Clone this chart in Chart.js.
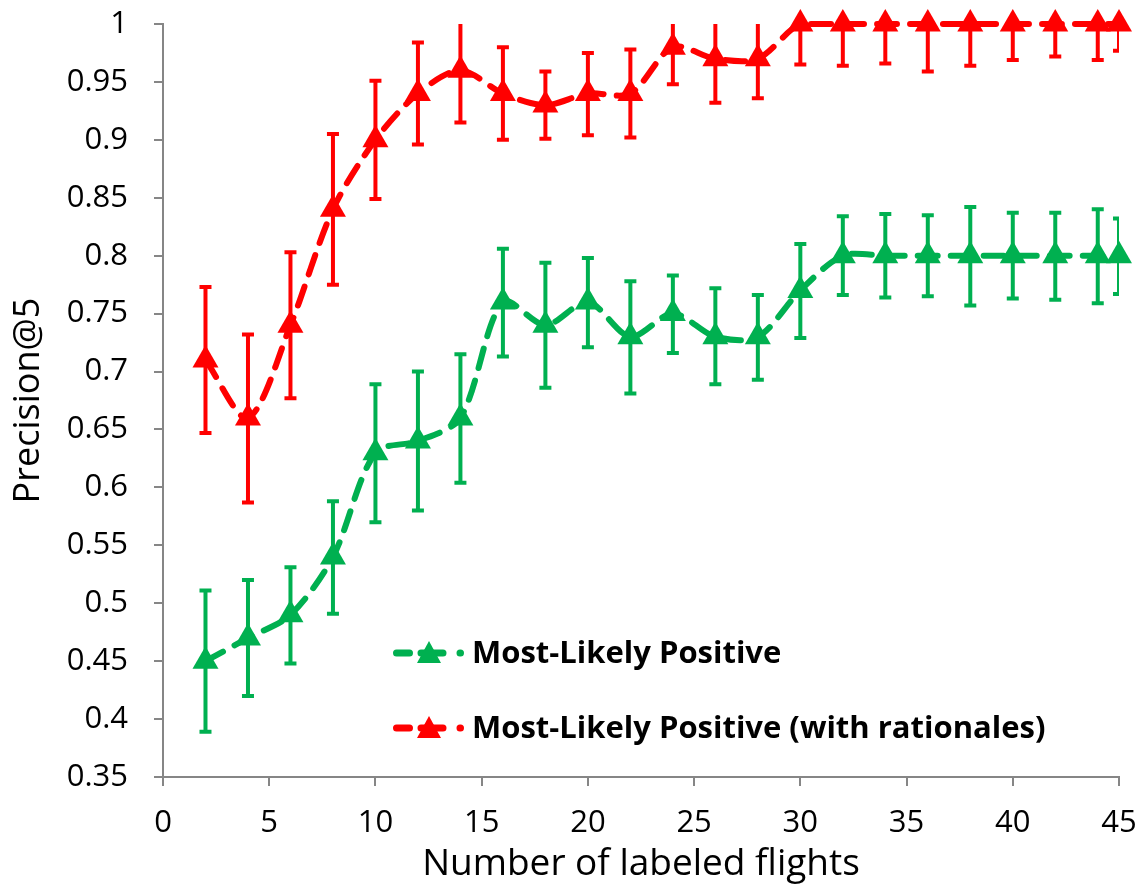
<!DOCTYPE html>
<html>
<head>
<meta charset="utf-8">
<script src="https://cdn.jsdelivr.net/npm/chart.js@4"></script>
<style>
  html, body { margin: 0; padding: 0; background: #fff; }
  #wrap { width: 1142px; height: 884px; }
</style>
</head>
<body>
<div id="wrap"><canvas id="precisionChart" width="1142" height="884"></canvas></div>
<script>
// labeled flights (x)
const flights = [2, 4, 6, 8, 10, 12, 14, 16, 18, 20, 22, 24, 26, 28, 30, 32, 34, 36, 38, 40, 42, 44, 45];

// Most-Likely Positive
const mlpMean = [0.45, 0.47, 0.49, 0.54, 0.63, 0.64, 0.66, 0.76, 0.74, 0.76, 0.73, 0.75, 0.73, 0.73, 0.77, 0.80, 0.80, 0.80, 0.80, 0.80, 0.80, 0.80, 0.80];
const mlpHigh = [0.511, 0.520, 0.531, 0.588, 0.689, 0.700, 0.715, 0.806, 0.794, 0.798, 0.778, 0.783, 0.772, 0.766, 0.810, 0.834, 0.836, 0.835, 0.842, 0.837, 0.837, 0.840, 0.832];
const mlpLow = [0.389, 0.420, 0.448, 0.491, 0.570, 0.580, 0.604, 0.713, 0.686, 0.721, 0.681, 0.716, 0.689, 0.693, 0.729, 0.766, 0.764, 0.765, 0.757, 0.763, 0.762, 0.759, 0.767];

// Most-Likely Positive (with rationales)
const ratMean = [0.71, 0.66, 0.74, 0.84, 0.90, 0.94, 0.96, 0.94, 0.93, 0.94, 0.94, 0.98, 0.97, 0.97, 1, 1, 1, 1, 1, 1, 1, 1, 1];
const ratHigh = [0.773, 0.732, 0.803, 0.905, 0.951, 0.984, 1.006, 0.980, 0.959, 0.975, 0.978, 1.012, 1.008, 1.004, 1.035, 1.036, 1.034, 1.041, 1.036, 1.031, 1.028, 1.031, 1.023];
const ratLow = [0.647, 0.587, 0.677, 0.775, 0.849, 0.896, 0.915, 0.900, 0.901, 0.904, 0.902, 0.948, 0.932, 0.936, 0.965, 0.964, 0.966, 0.959, 0.964, 0.969, 0.972, 0.969, 0.977];

const yTicks = [0.35, 0.4, 0.45, 0.5, 0.55, 0.6, 0.65, 0.7, 0.75, 0.8, 0.85, 0.9, 0.95, 1];

const GREEN = "#00b050";
const RED = "#ff0000";
const AXIS = "#868686";
const FONT = "'Open Sans', 'Noto Sans', sans-serif";

function toPoints(ys) {
    return flights.map((x, i) => ({ x: x, y: ys[i] }));
}

// error bars drawn through the scales, clipped to the plot area
const errorBars = {
    id: "errorBars",
    beforeDatasetsDraw(chart) {
        const { ctx, chartArea, scales } = chart;
        ctx.save();
        ctx.beginPath();
        ctx.rect(chartArea.left, chartArea.top, chartArea.right - chartArea.left, chartArea.bottom - chartArea.top);
        ctx.clip();
        chart.data.datasets.forEach((ds) => {
            ctx.strokeStyle = ds.borderColor;
            ctx.lineWidth = 4;
            ctx.lineCap = "butt";
            ds.errHigh.forEach((hi, i) => {
                const px = scales.x.getPixelForValue(flights[i]);
                const top = scales.y.getPixelForValue(hi);
                const bot = scales.y.getPixelForValue(ds.errLow[i]);
                ctx.beginPath();
                ctx.moveTo(px, top);
                ctx.lineTo(px, bot);
                ctx.moveTo(px - 6, top);
                ctx.lineTo(px + 6, top);
                ctx.moveTo(px - 6, bot);
                ctx.lineTo(px + 6, bot);
                ctx.stroke();
            });
        });
        ctx.restore();
    },
};

// legend sitting inside the plot, like the original
const insideLegend = {
    id: "insideLegend",
    afterDraw(chart) {
        const { ctx, chartArea } = chart;
        const x0 = chartArea.left + 232;
        const rows = [chartArea.top + 629, chartArea.top + 704];
        ctx.save();
        chart.data.datasets.forEach((ds, i) => {
            const y = rows[i];
            ctx.strokeStyle = ds.borderColor;
            ctx.lineWidth = 7;
            ctx.lineCap = "round";
            ctx.beginPath();
            ctx.moveTo(x0 + 1.5, y);
            ctx.lineTo(x0 + 14.5, y);
            ctx.moveTo(x0 + 26, y);
            ctx.lineTo(x0 + 48, y);
            ctx.moveTo(x0 + 65, y);
            ctx.lineTo(x0 + 65.5, y);
            ctx.stroke();
            ctx.fillStyle = ds.borderColor;
            ctx.beginPath();
            ctx.moveTo(x0 + 34, y - 12);
            ctx.lineTo(x0 + 46, y + 10);
            ctx.lineTo(x0 + 22, y + 10);
            ctx.closePath();
            ctx.fill();
            ctx.fillStyle = "#000";
            ctx.font = "bold 31px " + FONT;
            ctx.textBaseline = "alphabetic";
            ctx.fillText(ds.label, x0 + 77, y + 10);
        });
        ctx.restore();
    },
};

function lineSet(label, color, mean, hi, lo) {
    return {
        label: label,
        data: toPoints(mean),
        errHigh: hi,
        errLow: lo,
        borderColor: color,
        backgroundColor: color,
        borderWidth: 6,
        borderDash: [20, 13],
        borderCapStyle: "round",
        pointStyle: "triangle",
        pointRadius: 15,
        pointHoverRadius: 15,
        pointBorderWidth: 0,
        tension: 0.3,
        clip: false,
    };
}

new Chart(document.getElementById("precisionChart").getContext("2d"), {
    type: "line",
    data: {
        datasets: [
            lineSet("Most-Likely Positive", GREEN, mlpMean, mlpHigh, mlpLow),
            lineSet("Most-Likely Positive (with rationales)", RED, ratMean, ratHigh, ratLow),
        ],
    },
    options: {
        responsive: false,
        animation: false,
        layout: { padding: { top: 24, right: 23, left: 0, bottom: 0 } },
        plugins: {
            legend: { display: false },
            tooltip: { enabled: false },
        },
        scales: {
            x: {
                type: "linear",
                min: 0,
                max: 45,
                ticks: {
                    stepSize: 5,
                    color: "#000",
                    font: { family: FONT, size: 31 },
                    padding: 19,
                    maxRotation: 0,
                },
                grid: { drawOnChartArea: false, color: AXIS, tickLength: 9, lineWidth: 2 },
                border: { color: AXIS, width: 2 },
                title: {
                    display: true,
                    text: "Number of labeled flights",
                    color: "#000",
                    font: { family: FONT, size: 37 },
                    padding: { top: -4, bottom: -3 },
                },
                afterFit(scale) {
                    scale.height = 107;
                    scale.paddingLeft = 0;
                    scale.paddingRight = 0;
                },
            },
            y: {
                min: 0.35,
                max: 1,
                afterBuildTicks(scale) {
                    scale.ticks = yTicks.map((v) => ({ value: v }));
                },
                ticks: {
                    color: "#000",
                    font: { family: FONT, size: 31 },
                    padding: 26,
                    callback: (v) => String(Number(v.toFixed(2))),
                },
                grid: { drawOnChartArea: false, color: AXIS, tickLength: 9, lineWidth: 2 },
                border: { color: AXIS, width: 2 },
                title: {
                    display: true,
                    text: "Precision@5",
                    color: "#000",
                    font: { family: FONT, size: 36 },
                    padding: { top: 7, bottom: 0 },
                },
                afterFit(scale) {
                    scale.width = 163;
                    scale.paddingTop = 0;
                    scale.paddingBottom = 0;
                },
            },
        },
    },
    plugins: [errorBars, insideLegend],
});
</script>
</body>
</html>
